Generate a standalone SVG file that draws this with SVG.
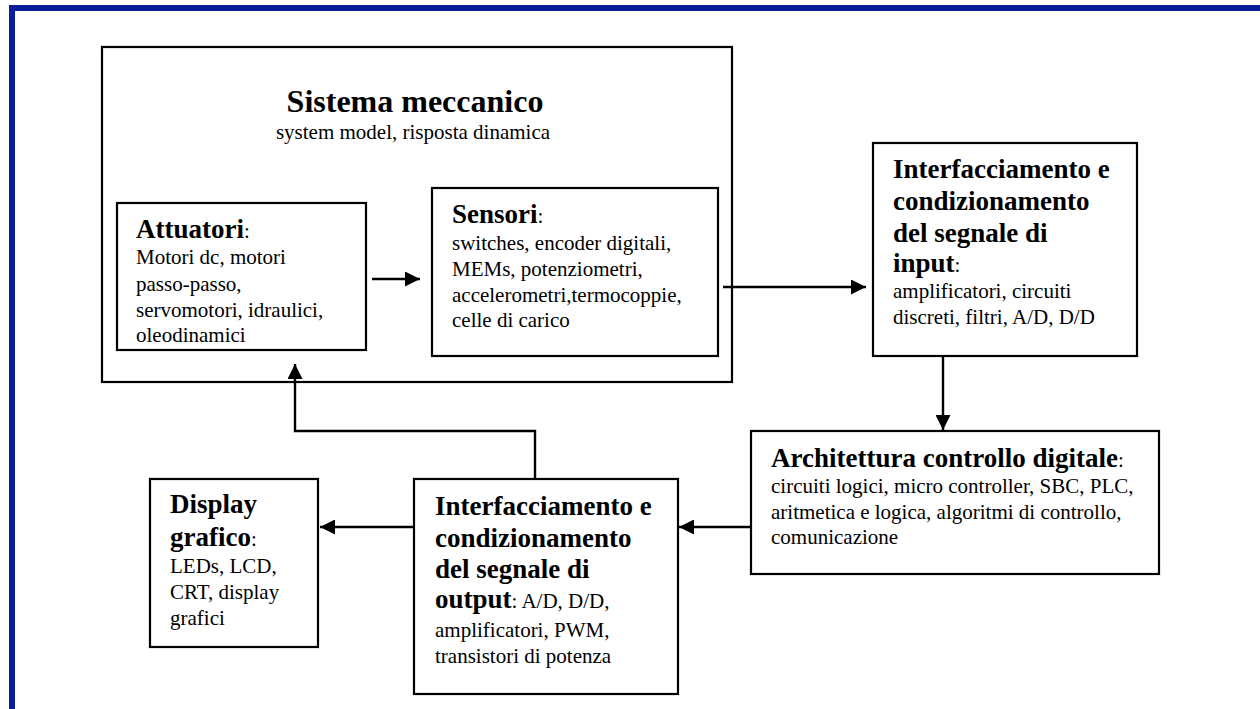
<svg xmlns="http://www.w3.org/2000/svg" width="1260" height="709" viewBox="0 0 1260 709">
<defs>
<marker id="ah" markerWidth="15" markerHeight="15" refX="15" refY="7.5" orient="auto" markerUnits="userSpaceOnUse">
<path d="M0,0 L15,7.5 L0,15 Z" fill="#000"/>
</marker>
<style>
.box{fill:#fff;stroke:#000;stroke-width:2.2}
.t{font-family:"Liberation Serif","Times New Roman",serif;fill:#000}
.h{font-size:27px;font-weight:bold}
.b{font-size:21px}
.title{font-size:32px;font-weight:bold}
.con{fill:none;stroke:#000;stroke-width:2.4}
</style>
</defs>
<rect width="1260" height="709" fill="#fff"/>
<path d="M12,709 L12,8 L1260,8" fill="none" stroke="#0b1e9a" stroke-width="6"/>

<g id="sistema">
<rect class="box" x="102" y="47" width="630" height="335"/>
<text class="t title" x="415" y="112" text-anchor="middle">Sistema meccanico</text>
<text class="t b" x="413" y="139" text-anchor="middle">system model, risposta dinamica</text>
</g>

<g id="attuatori">
<rect class="box" x="117" y="203" width="249" height="147"/>
<text class="t b" x="136"><tspan y="238" class="h">Attuatori</tspan><tspan y="238">:</tspan><tspan x="136" y="264">Motori dc, motori</tspan><tspan x="136" y="291">passo-passo,</tspan><tspan x="136" y="317">servomotori, idraulici,</tspan><tspan x="136" y="342">oleodinamici</tspan></text>
</g>

<g id="sensori">
<rect class="box" x="432" y="188" width="286" height="168"/>
<text class="t b" x="452"><tspan y="223" class="h">Sensori</tspan><tspan y="223">:</tspan><tspan x="452" y="250">switches, encoder digitali,</tspan><tspan x="452" y="276">MEMs, potenziometri,</tspan><tspan x="452" y="302">accelerometri,termocoppie,</tspan><tspan x="452" y="327">celle di carico</tspan></text>
</g>

<g id="input">
<rect class="box" x="873" y="143" width="264" height="213"/>
<text class="t h" x="893"><tspan y="178">Interfacciamento e</tspan><tspan x="893" y="210">condizionamento</tspan><tspan x="893" y="242">del segnale di</tspan><tspan x="893" y="272">input</tspan><tspan class="b" font-weight="normal">:</tspan></text>
<text class="t b" x="893"><tspan y="298">amplificatori, circuiti</tspan><tspan x="893" y="324">discreti, filtri, A/D, D/D</tspan></text>
</g>

<g id="architettura">
<rect class="box" x="751" y="431" width="408" height="143"/>
<text class="t b" x="771"><tspan y="467" class="h">Architettura controllo digitale</tspan><tspan y="467">:</tspan><tspan x="771" y="493">circuiti logici, micro controller, SBC, PLC,</tspan><tspan x="771" y="519">aritmetica e logica, algoritmi di controllo,</tspan><tspan x="771" y="544">comunicazione</tspan></text>
</g>

<g id="output">
<rect class="box" x="414" y="479" width="264" height="215"/>
<text class="t h" x="435"><tspan y="515">Interfacciamento e</tspan><tspan x="435" y="547">condizionamento</tspan><tspan x="435" y="578">del segnale di</tspan><tspan x="435" y="608">output</tspan><tspan class="b" font-weight="normal">:  A/D, D/D,</tspan></text>
<text class="t b" x="435"><tspan y="637">amplificatori, PWM,</tspan><tspan x="435" y="663">transistori di potenza</tspan></text>
</g>

<g id="display">
<rect class="box" x="150" y="479" width="168" height="168"/>
<text class="t h" x="170"><tspan y="513">Display</tspan><tspan x="170" y="546">grafico</tspan><tspan class="b" font-weight="normal">:</tspan></text>
<text class="t b" x="170"><tspan y="573">LEDs, LCD,</tspan><tspan x="170" y="599">CRT, display</tspan><tspan x="170" y="625">grafici</tspan></text>
</g>

<g id="connectors">
<line class="con" x1="372" y1="279" x2="420" y2="279" marker-end="url(#ah)"/>
<line class="con" x1="723" y1="287" x2="866" y2="287" marker-end="url(#ah)"/>
<line class="con" x1="943" y1="356" x2="943" y2="430" marker-end="url(#ah)"/>
<line class="con" x1="751" y1="527" x2="679" y2="527" marker-end="url(#ah)"/>
<line class="con" x1="414" y1="527" x2="320" y2="527" marker-end="url(#ah)"/>
<polyline class="con" points="535,479 535,431 295,431 295,364" marker-end="url(#ah)"/>
</g>
</svg>
